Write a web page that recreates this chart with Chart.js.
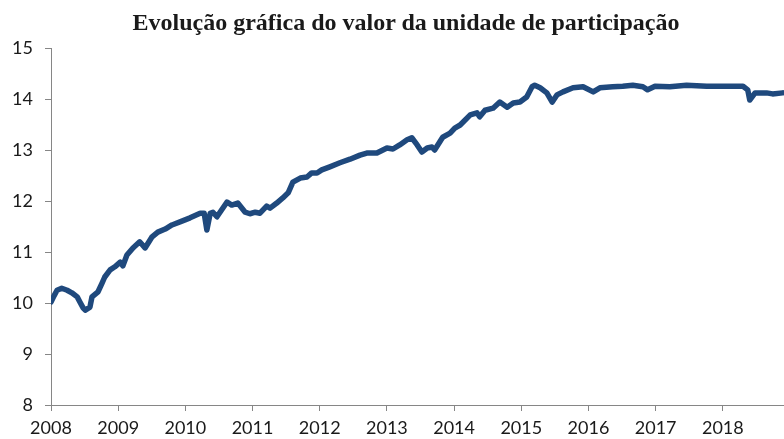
<!DOCTYPE html>
<html>
<head>
<meta charset="utf-8">
<script src="https://cdn.jsdelivr.net/npm/chart.js@4.4.1/dist/chart.umd.min.js"></script>
<style>
	html, body { margin: 0; padding: 0; background: #fff; }
	#wrap { position: relative; width: 784px; height: 439px; }
	#titulo {
		position: absolute; top: 9px; left: 406px; transform: translateX(-50%);
		white-space: nowrap; font-family: "Liberation Serif", serif; font-weight: bold;
		font-size: 24px; color: #1a1a1a;
	}
</style>
</head>
<body>
<div id="wrap">
	<div id="titulo">Evolução gráfica do valor da unidade de participação</div>
	<canvas id="chartline" width="784" height="439"></canvas>
</div>
<script>
// datas (ano decimal) e valor da UP
var anos = [2008.00, 2008.045, 2008.09, 2008.16, 2008.24, 2008.31, 2008.39, 2008.43, 2008.48, 2008.51,
	2008.58, 2008.61, 2008.70, 2008.76, 2008.80, 2008.88, 2008.95, 2009.03, 2009.07, 2009.13,
	2009.22, 2009.32, 2009.40, 2009.50, 2009.59, 2009.70, 2009.80, 2009.92, 2010.07, 2010.22,
	2010.28, 2010.32, 2010.37, 2010.41, 2010.47, 2010.62, 2010.69, 2010.78, 2010.89, 2010.96,
	2011.04, 2011.11, 2011.21, 2011.26, 2011.36, 2011.45, 2011.53, 2011.60, 2011.71, 2011.81,
	2011.88, 2011.96, 2012.03, 2012.15, 2012.30, 2012.45, 2012.60, 2012.70, 2012.85, 2013.00,
	2013.09, 2013.19, 2013.30, 2013.37, 2013.45, 2013.52, 2013.60, 2013.67, 2013.71, 2013.83,
	2013.94, 2014.01, 2014.09, 2014.24, 2014.34, 2014.38, 2014.46, 2014.58, 2014.68, 2014.79,
	2014.88, 2014.98, 2015.08, 2015.16, 2015.20, 2015.28, 2015.38, 2015.46, 2015.53, 2015.62,
	2015.77, 2015.92, 2016.07, 2016.17, 2016.36, 2016.51, 2016.66, 2016.81, 2016.88, 2016.99,
	2017.21, 2017.46, 2017.76, 2018.06, 2018.30, 2018.37, 2018.40, 2018.48, 2018.65, 2018.74,
	2018.89];
var valores = [10.02, 10.14, 10.25, 10.29, 10.25, 10.20, 10.12, 10.02, 9.90, 9.86,
	9.92, 10.12, 10.22, 10.39, 10.51, 10.65, 10.71, 10.80, 10.73, 10.94,
	11.08, 11.20, 11.08, 11.29, 11.39, 11.45, 11.53, 11.59, 11.67, 11.76,
	11.76, 11.43, 11.76, 11.78, 11.69, 11.98, 11.92, 11.96, 11.78, 11.75,
	11.78, 11.76, 11.90, 11.86, 11.96, 12.06, 12.16, 12.37, 12.45, 12.47,
	12.55, 12.55, 12.61, 12.67, 12.75, 12.82, 12.90, 12.94, 12.94, 13.04,
	13.02, 13.10, 13.20, 13.24, 13.10, 12.96, 13.04, 13.06, 13.00, 13.25,
	13.33, 13.43, 13.49, 13.69, 13.73, 13.65, 13.78, 13.82, 13.94, 13.84,
	13.92, 13.94, 14.04, 14.24, 14.27, 14.22, 14.12, 13.94, 14.08, 14.14,
	14.22, 14.24, 14.14, 14.22, 14.24, 14.25, 14.27, 14.24, 14.18, 14.25,
	14.24, 14.27, 14.25, 14.25, 14.25, 14.18, 13.98, 14.12, 14.12, 14.10,
	14.12];
var anoMin = 2008, anoMax = 2018.91;
var yMin = 8, yMax = 15;

function CreateChart() {
	var pontos = [];
	for (var i = 0; i < anos.length; i++) {
		pontos.push({ x: anos[i], y: valores[i] });
	}
	var cinza = "#868686";
	var fonte = { family: "Lato, 'Open Sans', sans-serif", size: 18 };
	var config = {
		type: "line",
		data: {
			datasets: [{
				data: pontos,
				borderColor: "#1f497d",
				borderWidth: 5.5,
				pointRadius: 0,
				tension: 0,
				borderJoinStyle: "round",
				borderCapStyle: "round"
			}]
		},
		options: {
			responsive: false,
			animation: false,
			layout: { padding: { top: 48, left: 0, right: 0, bottom: 0 } },
			plugins: {
				legend: { display: false },
				tooltip: { enabled: false },
				title: { display: false }
			},
			scales: {
				x: {
					type: "linear",
					min: anoMin,
					max: anoMax,
					grid: { drawOnChartArea: false, color: cinza, tickLength: 6 },
					border: { color: cinza },
					ticks: {
						stepSize: 1,
						includeBounds: false,
						autoSkip: false,
						maxRotation: 0,
						padding: 6,
						color: "#1a1a1a",
						font: fonte,
						callback: function (v) { return String(v); }
					},
					afterFit: function (s) { s.height = 34; }
				},
				y: {
					min: yMin,
					max: yMax,
					grid: { drawOnChartArea: false, color: cinza, tickLength: 6 },
					border: { color: cinza },
					ticks: {
						stepSize: 1,
						padding: 12,
						color: "#1a1a1a",
						font: fonte,
						callback: function (v) { return String(v); }
					},
					afterFit: function (s) { s.width = 51; }
				}
			}
		}
	};
	var ctx = document.getElementById("chartline").getContext("2d");
	window.chartline = new Chart(ctx, config);
}
CreateChart();
</script>
</body>
</html>
